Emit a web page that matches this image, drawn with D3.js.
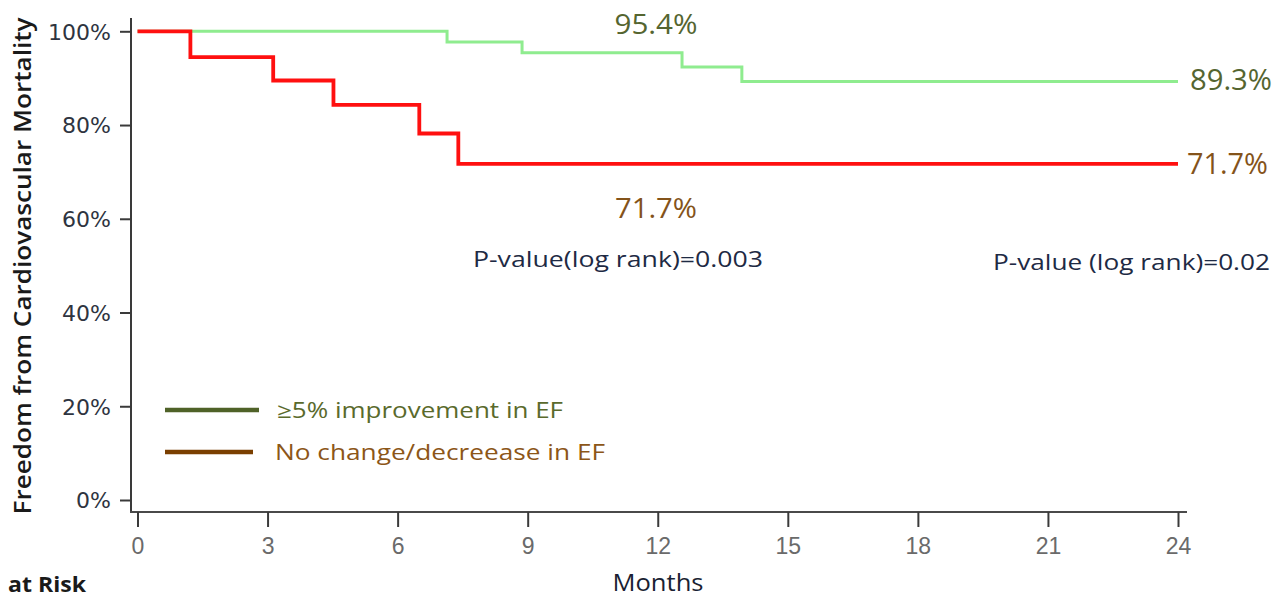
<!DOCTYPE html>
<html>
<head>
<meta charset="utf-8">
<script src="https://cdn.jsdelivr.net/npm/d3@7"></script>
<style>
  html, body { margin: 0; padding: 0; background: #ffffff; }
  svg { display: block; }
</style>
</head>
<body>
<svg id="chart" width="1278" height="597"></svg>
<script>
// Kaplan–Meier step data: event times (months) and survival (%) after each step
const improvedTimes = [0, 7.14, 8.87, 12.56, 13.94, 24];
const improvedSurv  = [100, 97.7, 95.4, 92.4, 89.3, 89.3];
const noChangeTimes = [0, 1.22, 3.13, 4.52, 6.5, 7.4, 24];
const noChangeSurv  = [100, 94.5, 89.5, 84.3, 78.2, 71.7, 71.7];

const monthTicks = [0, 3, 6, 9, 12, 15, 18, 21, 24];
const pctTicks = [0, 20, 40, 60, 80, 100];

const legendLabels = ["\u22655% improvement in EF", "No change/decreease in EF"];
const pLeft = "P-value(log rank)=0.003";
const pRight = "P-value (log rank)=0.02";
const improvedAt9 = 95.4;
const improvedEnd = 89.3;
const noChangeEnd = 71.7;

const svg = d3.select("#chart");
const x = d3.scaleLinear().domain([0, 24]).range([137.5, 1178]);
const y = d3.scaleLinear().domain([0, 100]).range([500, 31.3]);

const SANS = "'Open Sans', 'Noto Sans', sans-serif";

// axis lines
svg.append("line").attr("x1", 131).attr("x2", 131).attr("y1", 18).attr("y2", 513)
  .attr("stroke", "#3a3a3a").attr("stroke-width", 2);
svg.append("line").attr("x1", 130).attr("x2", 1187).attr("y1", 512).attr("y2", 512)
  .attr("stroke", "#4a4a4a").attr("stroke-width", 2);

// y axis ticks and labels
const yAxis = d3.axisLeft(y).tickValues(pctTicks).tickSize(11).tickPadding(9)
  .tickFormat(d => d + "%");
const gy = svg.append("g").attr("transform", "translate(131,0)").call(yAxis);
gy.select(".domain").remove();
gy.selectAll(".tick line").attr("stroke", "#3a3a3a").attr("stroke-width", 2);
gy.selectAll(".tick text").attr("fill", "#2e3440")
  .style("font-family", "'DejaVu Sans', sans-serif").style("font-size", "22px")
  .attr("dy", "0.36em");

// x axis ticks and labels
const xAxis = d3.axisBottom(x).tickValues(monthTicks).tickSize(15).tickPadding(11);
const gx = svg.append("g").attr("transform", "translate(0,512)").call(xAxis);
gx.select(".domain").remove();
gx.selectAll(".tick line").attr("stroke", "#3a3a3a").attr("stroke-width", 2);
gx.selectAll(".tick text").attr("fill", "#6a6a6a")
  .style("font-family", "'Liberation Sans', Arial, sans-serif").style("font-size", "23px");

// survival curves (no-change group drawn last so it sits on top at 100%)
const stepLine = d3.line().x(d => x(d[0])).y(d => y(d[1])).curve(d3.curveStepAfter);
svg.append("path").datum(d3.zip(improvedTimes, improvedSurv))
  .attr("d", stepLine).attr("fill", "none").attr("stroke", "#8fec8f")
  .attr("stroke-width", 3).attr("stroke-linejoin", "miter");
svg.append("path").datum(d3.zip(noChangeTimes, noChangeSurv))
  .attr("d", stepLine).attr("fill", "none").attr("stroke", "#ff1010")
  .attr("stroke-width", 3.8).attr("stroke-linejoin", "miter");

// value annotations
function label(txt, xPos, yPos, size, color, anchor, len) {
  const t = svg.append("text").attr("x", xPos).attr("y", yPos).attr("dy", "0.36em")
    .attr("text-anchor", anchor || "start").attr("fill", color)
    .style("font-family", SANS).style("font-size", size + "px").text(txt);
  if (len) t.attr("textLength", len).attr("lengthAdjust", "spacingAndGlyphs");
  return t;
}
const olive = "#556530";
const brown = "#84531a";
label(improvedAt9.toFixed(1) + "%", 656, 24, 28, olive, "middle", 83);
label(improvedEnd.toFixed(1) + "%", 1190, y(improvedEnd) - 2, 29, olive, "start", 82);
label(noChangeEnd.toFixed(1) + "%", 1187, y(noChangeEnd), 29, brown, "start", 81);
label(noChangeEnd.toFixed(1) + "%", 656, 208, 28, brown, "middle", 82);
label(pLeft, 473, 259, 21, "#1e2a44", "start", 290);
label(pRight, 993, 262, 21, "#1e2a44", "start", 277);

// legend
const legendColors = ["#4f6228", "#7a3f00"];
const legendTextColors = ["#5a6a2c", "#8c5618"];
const legendY = [410, 452];
const legendEnd = [259, 253];
const legendTextX = [277, 275];
const legendLen = [286, 330];
legendLabels.forEach((lab, i) => {
  svg.append("line").attr("x1", 165).attr("x2", legendEnd[i])
    .attr("y1", legendY[i]).attr("y2", legendY[i])
    .attr("stroke", legendColors[i]).attr("stroke-width", 4.5);
  label(lab, legendTextX[i], legendY[i], 21, legendTextColors[i], "start", legendLen[i]);
});

// axis titles
svg.append("text").attr("transform", "translate(23,266) rotate(-90)")
  .attr("text-anchor", "middle").attr("dy", "0.36em").attr("fill", "#1a1a1a")
  .style("font-family", SANS).style("font-size", "23px").style("font-weight", 600)
  .attr("textLength", 497).attr("lengthAdjust", "spacingAndGlyphs")
  .text("Freedom from Cardiovascular  Mortality");
svg.append("text").attr("x", 658).attr("y", 591)
  .attr("text-anchor", "middle").attr("fill", "#1a1f33")
  .style("font-family", SANS).style("font-size", "23px")
  .attr("textLength", 91).attr("lengthAdjust", "spacingAndGlyphs")
  .text("Months");
svg.append("text").attr("x", 8).attr("y", 592)
  .attr("fill", "#1a1a1a")
  .style("font-family", SANS).style("font-size", "22px").style("font-weight", 700)
  .attr("textLength", 78).attr("lengthAdjust", "spacingAndGlyphs")
  .text("at Risk");
</script>
</body>
</html>
